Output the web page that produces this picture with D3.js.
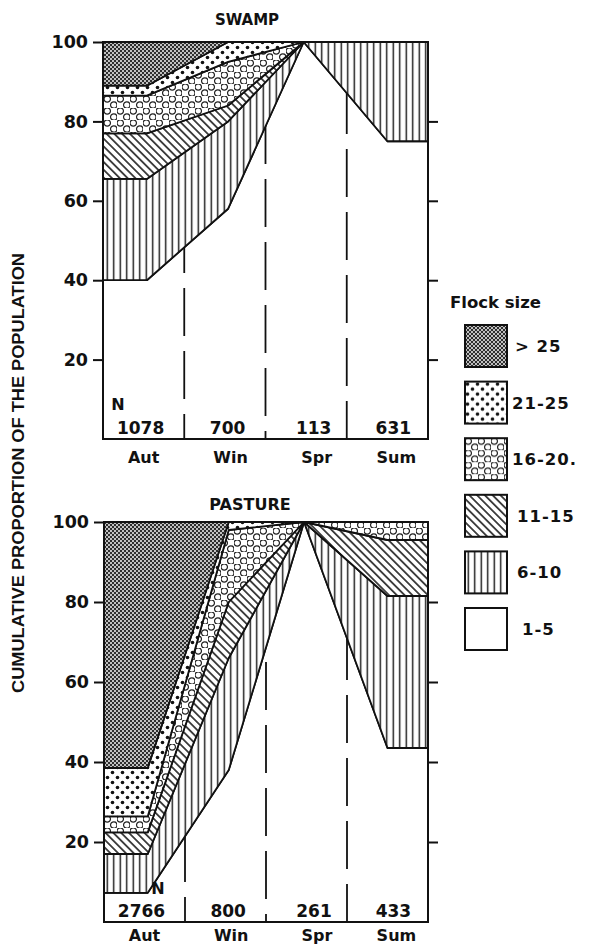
<!DOCTYPE html>
<html><head><meta charset="utf-8">
<script src="https://cdn.jsdelivr.net/npm/d3@7"></script>
<style>body{margin:0;background:#fff} svg{display:block}</style>
</head><body>
<script>
const seasons = ["Aut","Win","Spr","Sum"];
const flockClasses = ["1-5","6-10","11-15","16-20","21-25","> 25"];
const legendClasses = ["> 25","21-25","16-20","11-15","6-10","1-5"];
const legendLabels = ["> 25","21-25","16-20.","11-15","6-10","1-5"];
const yTicks = [20,40,60,80,100];
const rightTicks = [20,40,60,80];
// where each season's values sit along the 0..4 season axis
const seasonPos = [[0,0.54],[1.54],[2.47],[3.5,4]];
const labelPos = [0.5,1.57,2.63,3.61];

const swampN = [1078,700,113,631];
const swamp_1_5   = [40,58,100,75];
const swamp_6_10  = [25.5,22,0,25];
const swamp_11_15 = [11.5,4,0,0];
const swamp_16_20 = [9.5,11,0,0];
const swamp_21_25 = [2.5,5,0,0];
const swamp_gt25  = [11,0,0,0];

const pastureN = [2766,800,261,433];
const pasture_1_5   = [7.3,38,100,43.5];
const pasture_6_10  = [9.7,28,0,38];
const pasture_11_15 = [5.4,14,0,14];
const pasture_16_20 = [4,18,0,4.5];
const pasture_21_25 = [12.1,2,0,0];
const pasture_gt25  = [61.5,0,0,0];

const W = 590, H = 946;
const svg = d3.select("body").append("svg").attr("width", W).attr("height", H);
const defs = svg.append("defs");
const FONT = "'DejaVu Sans', sans-serif";

// patterns
function pat(id, w, h, transform) {
  const p = defs.append("pattern").attr("id", id).attr("patternUnits", "userSpaceOnUse")
    .attr("width", w).attr("height", h);
  if (transform) p.attr("patternTransform", transform);
  p.append("rect").attr("width", w).attr("height", h).attr("fill", "#fff");
  return p;
}
const pg = pat("p_gt25", 4, 4);
pg.select("rect").attr("fill", "#2e2e2e");
pg.append("circle").attr("cx", 1).attr("cy", 1).attr("r", 0.95).attr("fill", "#fff");
pg.append("circle").attr("cx", 3).attr("cy", 3).attr("r", 0.95).attr("fill", "#fff");
const pd = pat("p_21_25", 10, 10);
pd.append("circle").attr("cx", 2.5).attr("cy", 2.5).attr("r", 1.8).attr("fill", "#111");
pd.append("circle").attr("cx", 7.5).attr("cy", 7.5).attr("r", 1.8).attr("fill", "#111");
const pc = pat("p_16_20", 13, 12);
pc.append("circle").attr("cx", 3.25).attr("cy", 3).attr("r", 3.2).attr("fill", "none").attr("stroke", "#222").attr("stroke-width", 1.2);
pc.append("circle").attr("cx", 9.75).attr("cy", 9).attr("r", 3.2).attr("fill", "none").attr("stroke", "#222").attr("stroke-width", 1.2);
const ph = pat("p_11_15", 5.5, 5.5, "rotate(-45)");
ph.append("line").attr("x1", 2.75).attr("x2", 2.75).attr("y1", 0).attr("y2", 5.5).attr("stroke", "#111").attr("stroke-width", 1.5);
const pv = pat("p_6_10", 6.5, 10);
pv.append("line").attr("x1", 3.25).attr("x2", 3.25).attr("y1", 0).attr("y2", 10).attr("stroke", "#111").attr("stroke-width", 1.4);

const fillOf = {
  "1-5": "none", "6-10": "url(#p_6_10)", "11-15": "url(#p_11_15)",
  "16-20": "url(#p_16_20)", "21-25": "url(#p_21_25)", "> 25": "url(#p_gt25)"
};

function drawPanel(cfg) {
  const x = d3.scaleLinear().domain([0, 4]).range([cfg.x0, cfg.x1]);
  const y = d3.scaleLinear().domain([0, 100]).range([cfg.y0, cfg.y1]);
  const g = svg.append("g");

  const rows = seasons.map((s, i) => {
    const r = { season: s };
    flockClasses.forEach((c, k) => r[c] = cfg.values[k][i]);
    return r;
  });
  const stack = d3.stack().keys(flockClasses)(rows);

  const pts = [];
  seasonPos.forEach((ps, i) => ps.forEach(p => pts.push({ pos: p, i })));

  // dashed season separators
  g.selectAll("line.sep").data([1, 2, 3]).join("line")
    .attr("x1", d => x(d)).attr("x2", d => x(d))
    .attr("y1", y(0)).attr("y2", y(100))
    .attr("stroke", "#111").attr("stroke-width", 1.8)
    .attr("stroke-dasharray", "48 15").attr("stroke-dashoffset", (d, i) => [23, 40, 10][i]);

  const area = d3.area()
    .x(d => x(d.pos))
    .y0(d => y(d.ser[d.i][0]))
    .y1(d => y(d.ser[d.i][1]));

  stack.forEach(ser => {
    g.append("path")
      .attr("d", area(pts.map(p => ({ ...p, ser }))))
      .attr("fill", fillOf[ser.key])
      .attr("stroke", "#111").attr("stroke-width", 1.8).attr("stroke-linejoin", "round");
  });

  // frame
  g.append("rect").attr("x", x(0)).attr("y", y(100))
    .attr("width", x(4) - x(0)).attr("height", y(0) - y(100))
    .attr("fill", "none").attr("stroke", "#111").attr("stroke-width", 2);

  const ax = g.append("g").attr("transform", `translate(${x(0)},0)`)
    .call(d3.axisLeft(y).tickValues(yTicks).tickSize(10).tickPadding(5).tickFormat(d3.format("d")));
  ax.select(".domain").remove();
  ax.selectAll("line").attr("stroke", "#111").attr("stroke-width", 2);
  ax.selectAll("text").attr("font-family", FONT).attr("font-weight", "bold")
    .attr("font-size", 17.5).attr("fill", "#111");

  const axr = g.append("g").attr("transform", `translate(${x(4)},0)`)
    .call(d3.axisRight(y).tickValues(rightTicks).tickSize(10).tickFormat(""));
  axr.select(".domain").remove();
  axr.selectAll("line").attr("stroke", "#111").attr("stroke-width", 2);

  g.append("text").attr("x", cfg.titleX).attr("y", cfg.titleY).attr("text-anchor", "middle")
    .attr("font-family", FONT).attr("font-weight", "bold").attr("font-size", cfg.titleSize)
    .attr("fill", "#111").text(cfg.title);

  g.selectAll("text.n").data(cfg.N).join("text")
    .attr("x", (d, i) => x(labelPos[i]) - 3).attr("y", y(0) - 5)
    .attr("text-anchor", "middle").attr("font-family", FONT).attr("font-weight", "bold")
    .attr("font-size", 17).attr("fill", "#111").text(d => d);

  g.selectAll("text.s").data(seasons).join("text")
    .attr("x", (d, i) => x(labelPos[i])).attr("y", y(0) + cfg.seasonDy)
    .attr("text-anchor", "middle").attr("font-family", FONT).attr("font-weight", "bold")
    .attr("font-size", 16).attr("fill", "#111").text(d => d);

  g.append("text").attr("x", cfg.nX).attr("y", cfg.nY).attr("text-anchor", "middle")
    .attr("font-family", FONT).attr("font-weight", "bold").attr("font-size", 16)
    .attr("fill", "#111").text("N");
}

drawPanel({
  title: "SWAMP", titleX: 247, titleY: 25, titleSize: 15,
  x0: 103, x1: 428, y0: 439, y1: 42, seasonDy: 24,
  values: [swamp_1_5, swamp_6_10, swamp_11_15, swamp_16_20, swamp_21_25, swamp_gt25],
  N: swampN, nX: 118, nY: 410
});
drawPanel({
  title: "PASTURE", titleX: 250, titleY: 510, titleSize: 16,
  x0: 104, x1: 428, y0: 922, y1: 522, seasonDy: 19,
  values: [pasture_1_5, pasture_6_10, pasture_11_15, pasture_16_20, pasture_21_25, pasture_gt25],
  N: pastureN, nX: 158, nY: 894
});

// y-axis title
svg.append("text").attr("transform", "translate(24,473) rotate(-90)")
  .attr("text-anchor", "middle").attr("font-family", "'Liberation Sans', Arial, sans-serif")
  .attr("font-weight", "bold").attr("font-size", 16).attr("fill", "#111")
  .attr("textLength", 440).attr("lengthAdjust", "spacingAndGlyphs")
  .text("CUMULATIVE PROPORTION OF THE POPULATION");

// legend
const lg = svg.append("g");
lg.append("text").attr("x", 450).attr("y", 308).attr("font-family", FONT).attr("font-weight", "bold")
  .attr("font-size", 16.5).attr("fill", "#111").text("Flock size");
const item = lg.selectAll("g.item").data(legendClasses).join("g")
  .attr("transform", (d, i) => `translate(465,${325 + i * 56.6})`);
item.append("rect").attr("width", 42).attr("height", 42)
  .attr("fill", d => d === "1-5" ? "#fff" : fillOf[d]).attr("stroke", "#111").attr("stroke-width", 2);
item.append("text").attr("x", (d, i) => [50, 47, 47, 52, 52, 57][i]).attr("y", 27)
  .attr("font-family", FONT).attr("font-weight", "bold").attr("font-size", 16.5)
  .attr("letter-spacing", 1).attr("fill", "#111").text((d, i) => legendLabels[i]);
</script>
</body></html>
